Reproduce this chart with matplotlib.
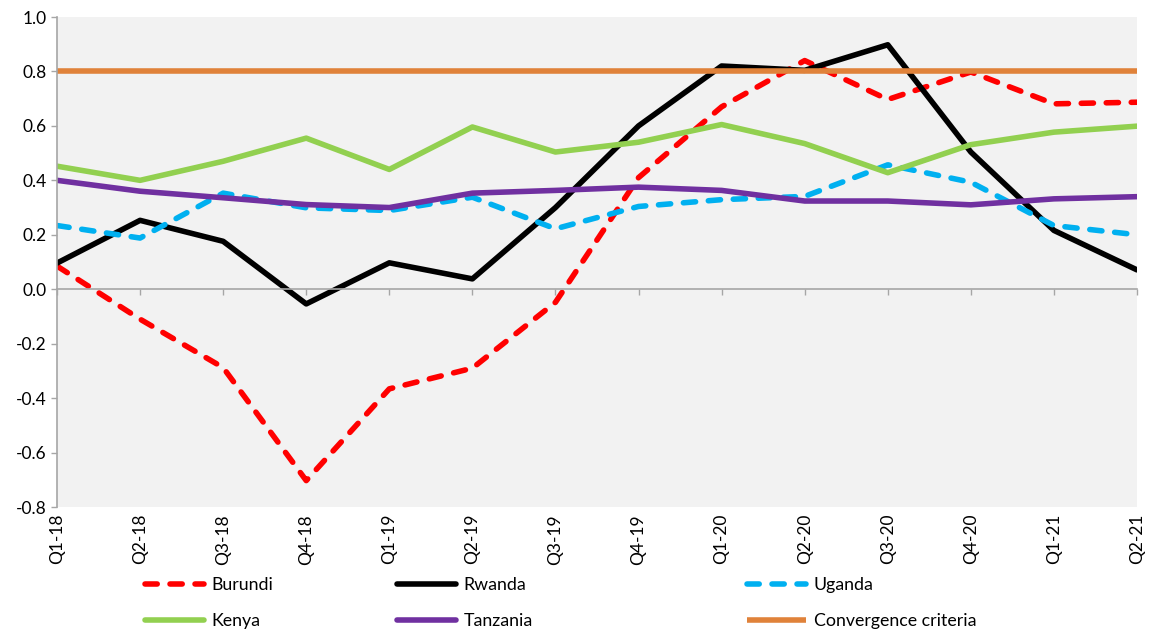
import numpy as np
import matplotlib
matplotlib.use("Agg")
import matplotlib.pyplot as plt

plt.rcParams['font.family'] = ['Lato', 'DejaVu Sans']

quarters = ["Q1-18", "Q2-18", "Q3-18", "Q4-18", "Q1-19", "Q2-19", "Q3-19",
            "Q4-19", "Q1-20", "Q2-20", "Q3-20", "Q4-20", "Q1-21", "Q2-21"]

burundi = [0.085, -0.11, -0.288, -0.703, -0.366, -0.29, -0.048,
           0.41, 0.67, 0.84, 0.697, 0.798, 0.681, 0.687]
rwanda = [0.096, 0.253, 0.176, -0.054, 0.097, 0.038, 0.30,
          0.60, 0.82, 0.804, 0.898, 0.504, 0.216, 0.071]
uganda = [0.234, 0.188, 0.353, 0.299, 0.289, 0.338, 0.222,
          0.304, 0.329, 0.341, 0.457, 0.393, 0.234, 0.20]
kenya = [0.452, 0.40, 0.47, 0.555, 0.44, 0.596, 0.504,
         0.54, 0.605, 0.535, 0.428, 0.531, 0.577, 0.599]
tanzania = [0.40, 0.36, 0.336, 0.311, 0.30, 0.353, 0.363,
            0.375, 0.363, 0.324, 0.324, 0.31, 0.332, 0.34]
criteria = [0.8] * len(quarters)

yticks = [-0.8, -0.6, -0.4, -0.2, 0.0, 0.2, 0.4, 0.6, 0.8, 1.0]

x = np.arange(len(quarters))
lw = 4.0
dash = (2.2, 2.3)

fig = plt.figure(figsize=(11.5, 6.35), dpi=100)
ax = fig.add_axes([57 / 1150, 1 - 507 / 635, (1137 - 57) / 1150, (507 - 17) / 635])
ax.set_facecolor("#F2F2F2")

l1, = ax.plot(x, burundi, color="#FF0000", lw=lw, dashes=dash,
              dash_capstyle="round", label="Burundi")
l2, = ax.plot(x, rwanda, color="black", lw=lw, solid_capstyle="round", label="Rwanda")
l3, = ax.plot(x, uganda, color="#00B0F0", lw=lw, dashes=dash,
              dash_capstyle="round", label="Uganda")
l4, = ax.plot(x, kenya, color="#92D050", lw=lw, solid_capstyle="round", label="Kenya")
l5, = ax.plot(x, tanzania, color="#7030A0", lw=lw, solid_capstyle="round", label="Tanzania")
l6, = ax.plot(x, criteria, color="#E0823A", lw=lw, solid_capstyle="butt",
              label="Convergence criteria")

ax.set_xlim(0, 13)
ax.set_ylim(-0.8, 1.0)
ax.set_yticks(yticks)
ax.set_yticklabels(["%.1f" % v for v in yticks])

for s in ["top", "right"]:
    ax.spines[s].set_visible(False)
ax.spines["left"].set_color("#A6A6A6")
ax.spines["left"].set_linewidth(1.2)
ax.spines["bottom"].set_position(("data", 0))
ax.spines["bottom"].set_color("#A6A6A6")
ax.spines["bottom"].set_linewidth(1.2)

ax.set_xticks(x)
ax.tick_params(axis="x", labelbottom=False, length=4.5, color="#A6A6A6", width=1)
ax.tick_params(axis="y", length=4.5, color="#A6A6A6", width=1, pad=3, labelsize=12.5)

sec = ax.secondary_xaxis("bottom")
sec.set_xticks(x)
sec.set_xticklabels(quarters, rotation=90, fontsize=12.5)
sec.tick_params(length=0, pad=5)
sec.spines["bottom"].set_visible(False)

# three legend columns, Excel style spacing
cols = [([l1, l4], 145), ([l2, l5], 397), ([l3, l6], 747)]
for handles, px in cols:
    fig.legend(handles=handles, loc="upper left",
               bbox_to_anchor=(px / 1150, 1 - 577 / 635),
               frameon=False, fontsize=12.8, handlelength=3.3,
               handletextpad=0.45, labelspacing=1.15,
               borderpad=0, borderaxespad=0)

fig.savefig("out.png", dpi=100)
